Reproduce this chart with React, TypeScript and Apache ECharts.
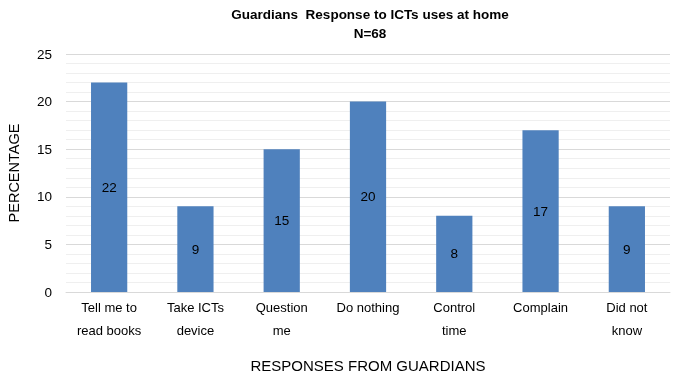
import React, { useEffect, useRef } from "react";
import * as echarts from "echarts";

const categories = [
  "Tell me to\nread books",
  "Take ICTs\ndevice",
  "Question\nme",
  "Do nothing",
  "Control\ntime",
  "Complain",
  "Did not\nknow",
];
const values = [22, 9, 15, 20, 8, 17, 9];
const titleLines = ["Guardians  Response to ICTs uses at home", "N=68"];
const yAxisName = "PERCENTAGE";
const xAxisName = "RESPONSES FROM GUARDIANS";

const FONT = "'Liberation Sans', sans-serif";

export default function App() {
  const ref = useRef<HTMLDivElement>(null);
  useEffect(() => {
    if (!ref.current) return;
    const chart = echarts.init(ref.current, undefined, { renderer: "svg" });
    chart.setOption({
      animation: false,
      title: {
        text: titleLines.join("\n"),
        left: 370,
        textAlign: "center",
        top: 5,
        padding: 0,
        textStyle: {
          fontFamily: FONT,
          fontSize: 13.5,
          fontWeight: "bold",
          color: "#000",
          lineHeight: 19,
        },
      },
      grid: { left: 66, right: 7, top: 54, bottom: 85, outerBoundsMode: "none" },
      xAxis: {
        type: "category",
        data: categories,
        name: xAxisName,
        nameLocation: "middle",
        nameGap: 73,
        nameTextStyle: { fontFamily: FONT, fontSize: 15, color: "#000", verticalAlign: "middle" },
        axisLine: { lineStyle: { color: "#d9d9d9" } },
        axisTick: { show: false },
        axisLabel: {
          fontFamily: FONT,
          fontSize: 13,
          color: "#000",
          lineHeight: 23,
          margin: 4,
          interval: 0,
        },
      },
      yAxis: {
        type: "value",
        min: 0,
        max: 25,
        interval: 5,
        name: yAxisName,
        nameLocation: "middle",
        nameGap: 45,
        nameTextStyle: { fontFamily: FONT, fontSize: 14.5, color: "#000" },
        axisLine: { show: false },
        axisTick: { show: false },
        axisLabel: { fontFamily: FONT, fontSize: 13.5, color: "#000", margin: 14 },
        splitLine: { lineStyle: { color: "#d9d9d9" } },
        minorTick: { show: false, splitNumber: 5 },
        minorSplitLine: { show: true, lineStyle: { color: "#efefef" } },
      },
      series: [
        {
          type: "bar",
          data: values,
          barWidth: "42%",
          itemStyle: { color: "#4f81bd" },
          label: {
            show: true,
            position: "inside",
            fontFamily: FONT,
            fontSize: 13.5,
            color: "#000",
          },
        },
      ],
    });
    return () => chart.dispose();
  }, []);
  return (
    <div
      ref={ref}
      style={{ position: "fixed", left: 0, top: 0, width: 677, height: 377 }}
    />
  );
}
